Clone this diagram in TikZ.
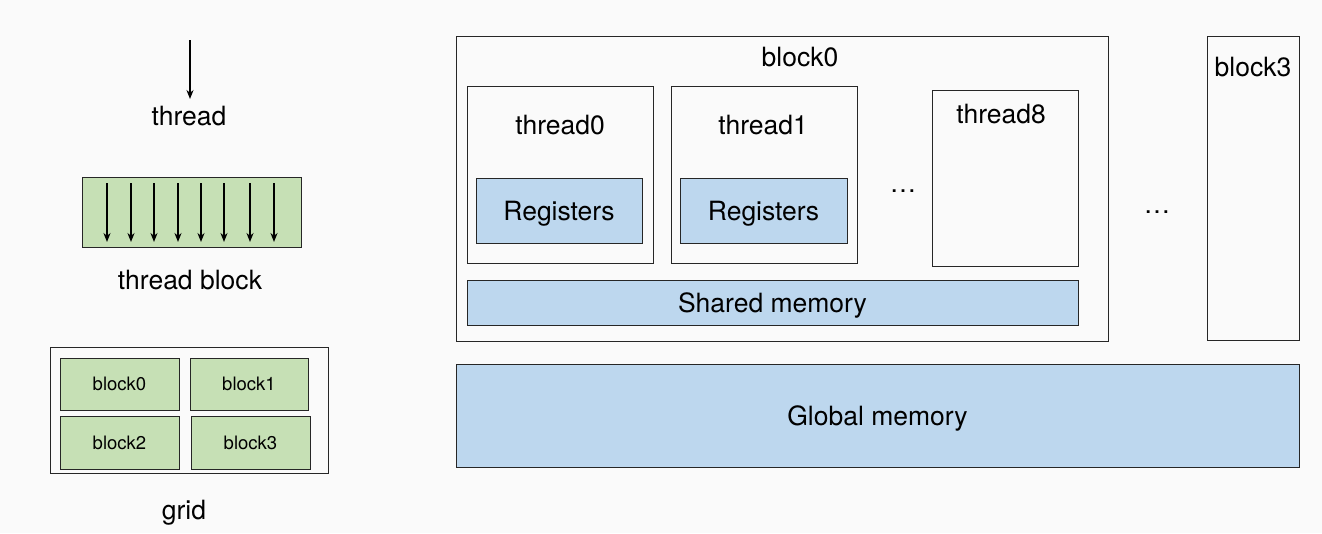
\documentclass[tikz,border=0pt]{standalone}
\usepackage{fontspec}
\setmainfont{TeX Gyre Heros}
\usepackage{tikz}
\usetikzlibrary{arrows.meta}
\usepackage{xcolor}
\definecolor{bgcol}{RGB}{250,250,250}
\definecolor{tgreen}{RGB}{198,224,181}
\definecolor{mblue}{RGB}{189,215,238}

\tikzset{
  box/.style={draw=black!85,line width=0.9pt,inner sep=0pt},
  gbox/.style={box,fill=tgreen},
  bbox/.style={box,fill=mblue},
  lbl/.style={font=\fontsize{26.5}{30}\selectfont,text height=19pt,text depth=0pt},
  slbl/.style={font=\fontsize{18.5}{22}\selectfont,text height=13.3pt,text depth=0pt},
  tharrow/.style={->,line width=1.8pt}
}

\begin{document}
\begin{tikzpicture}[x=1pt,y=-1pt,>={Stealth[length=9pt,width=7pt]}]
\fill[bgcol] (0,0) rectangle (1322,533);
\useasboundingbox (0,0) rectangle (1322,533);

% left: legend
\coordinate (t0) at (190,40);
\coordinate (t1) at (190,99);
\draw[tharrow] (t0) -- (t1);
\node[lbl] (thr) at (189,116) {thread};

\node[gbox,minimum width=219pt,minimum height=70pt] (tblk) at (191.5,212) {};
\foreach \x [count=\i] in {107,131,154,178,201,224,250,274}{
  \coordinate (a\i) at (\x,183);
  \coordinate (b\i) at (\x,242);
  \draw[tharrow] (a\i) -- (b\i);
}
\node[lbl] (tblktxt) at (190,280) {thread block};

\node[box,fill=bgcol,minimum width=278pt,minimum height=126pt] (grd) at (189,410) {};
\node[gbox,slbl,minimum width=119pt,minimum height=52pt] (g0) at (119.5,384) {block0};
\node[gbox,slbl,minimum width=118pt,minimum height=52pt] (g1) at (249,384) {block1};
\node[gbox,slbl,minimum width=119pt,minimum height=53pt] (g2) at (119.5,442.5) {block2};
\node[gbox,slbl,minimum width=119pt,minimum height=53pt] (g3) at (250.5,442.5) {block3};
\node[lbl] (grdtxt) at (184,510) {grid};

% right: memory hierarchy
\node[box,minimum width=652pt,minimum height=305pt] (blk0) at (782,188.5) {};
\node[lbl] (blk0txt) at (800,57) {block0};

\node[box,minimum width=186pt,minimum height=177pt] (th0) at (560,174.5) {};
\node[lbl] (th0txt) at (560,125) {thread0};
\node[bbox,lbl,minimum width=166pt,minimum height=65pt] (reg0) at (559,210.5) {Registers};

\node[box,minimum width=186pt,minimum height=177pt] (th1) at (764,174.5) {};
\node[lbl] (th1txt) at (763,125) {thread1};
\node[bbox,lbl,minimum width=167pt,minimum height=65pt] (reg1) at (763.5,210.5) {Registers};

\node[lbl] (dots1) at (903,183) {\dots};

\node[box,minimum width=146pt,minimum height=176pt] (th8) at (1005,178) {};
\node[lbl] (th8txt) at (1001,114) {thread8};

\node[bbox,lbl,minimum width=611pt,minimum height=45pt] (shm) at (772.5,302.5) {Shared memory};

\node[lbl] (dots2) at (1157,204) {\dots};

\node[box,minimum width=92pt,minimum height=304pt] (blk3) at (1253,188) {};
\node[lbl] (blk3txt) at (1253,67) {block3};

\node[bbox,lbl,minimum width=843pt,minimum height=103pt] (glob) at (877.5,415.5) {Global memory};
\end{tikzpicture}
\end{document}
